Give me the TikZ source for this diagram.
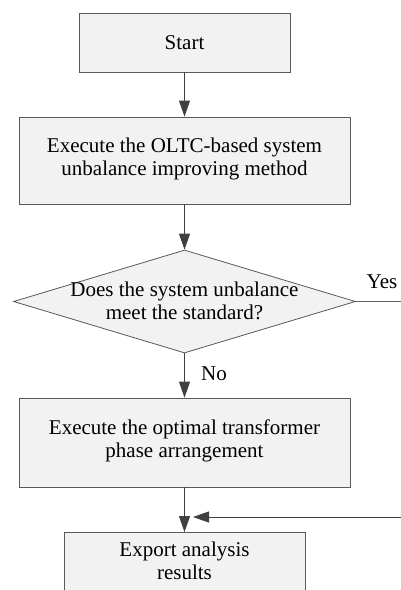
\documentclass[tikz,border=0pt]{standalone}
\usepackage{fontspec}
\setmainfont{Liberation Serif}
\usetikzlibrary{arrows.meta,shapes.geometric}
\begin{document}
\begin{tikzpicture}[x=1pt,y=1pt,
  every node/.style={font=\fontsize{21}{23.5}\selectfont},
  box/.style={draw=black!65,fill=black!5,line width=0.8pt,inner sep=0pt},
  dia/.style={shape=diamond,draw=black!65,fill=black!5,line width=0.8pt,inner sep=0pt},
  txt/.style={align=center,inner sep=0pt},
  arr/.style={draw=black!75,line width=0.9pt,-{Triangle[length=16pt,width=11pt]}},
  ln/.style={draw=black!60,line width=0.9pt}]
\path[use as bounding box,clip] (0,0) rectangle (401,-590);
\node[box,minimum width=211,minimum height=59] (start) at (184.5,-42.5) {};
\node[txt] (startt) at (184.5,-42.5) {Start};
\node[box,minimum width=331,minimum height=87] (oltc) at (184.5,-160.5) {};
\node[txt] (oltct) at (184.5,-159) {Execute the OLTC-based system\\unbalance improving method};
\node[dia,minimum width=342,minimum height=103] (q) at (184.5,-301.5) {};
\node[txt] (qt) at (184.5,-301) {Does the system unbalance\\meet the standard?};
\node[box,minimum width=331,minimum height=89] (opt) at (184.5,-442.5) {};
\node[txt] (optt) at (184.5,-441) {Execute the optimal transformer\\phase arrangement};
\node[box,anchor=north,minimum width=241,minimum height=100] (out) at (184.5,-532) {};
\node[txt] (outt) at (184.5,-561) {Export analysis\\results};
\node[txt] (yes) at (382,-282) {Yes};
\node[txt] (no) at (214,-374) {No};
\coordinate (yesend) at (410,-301.5);
\coordinate (retstart) at (410,-517);
\coordinate (rettip) at (193,-517);
\draw[arr] (start.south) -- (oltc.north);
\draw[arr] (oltc.south) -- (q.north);
\draw[arr] (q.south) -- (opt.north);
\draw[arr] (opt.south) -- (out.north);
\draw[ln] (q.east) -- (yesend);
\draw[ln,arr] (retstart) -- (rettip);
\end{tikzpicture}
\end{document}
